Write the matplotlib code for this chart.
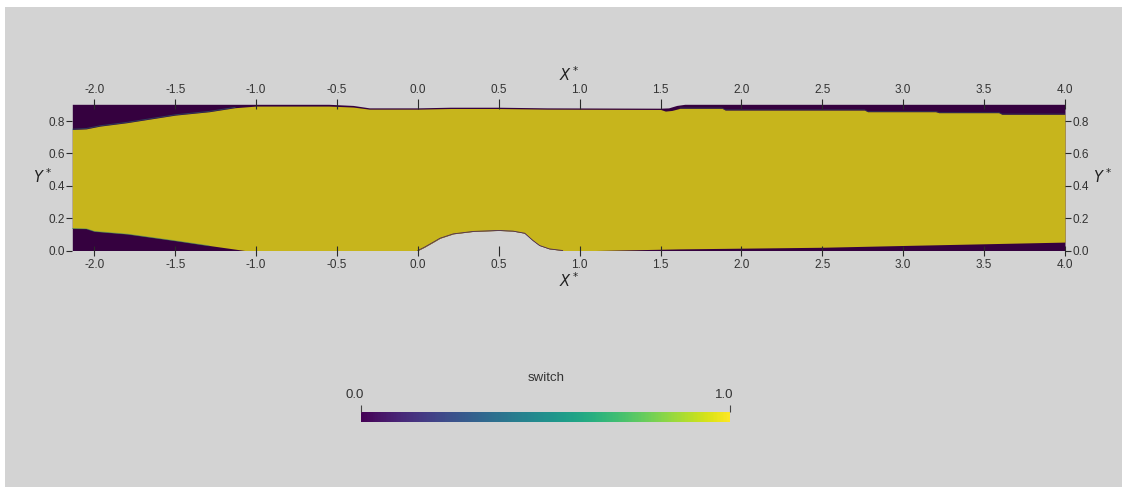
import numpy as np
import matplotlib
matplotlib.use("Agg")
import matplotlib.pyplot as plt
from matplotlib.patches import Rectangle
from matplotlib.cm import ScalarMappable
from matplotlib.colors import Normalize
from matplotlib.transforms import ScaledTranslation

plt.rcParams['font.family'] = ['Liberation Sans', 'DejaVu Sans']
plt.rcParams['mathtext.fontset'] = 'dejavusans'

# domain walls (x*, y*)
top_wall_x = [-2.136, -0.55, -0.40, -0.30, 0.0, 0.2, 0.5, 0.8, 1.5, 1.55, 1.6, 1.65, 4.0]
top_wall_y = [0.904, 0.904, 0.897, 0.882, 0.882, 0.886, 0.886, 0.882, 0.880, 0.882, 0.897, 0.904, 0.904]

bot_wall_x = [-2.136, 0.0, 0.04, 0.096, 0.137, 0.219, 0.342, 0.445, 0.5, 0.588, 0.66, 0.711, 0.752, 0.813, 0.895, 4.0]
bot_wall_y = [0.0, 0.0, 0.02, 0.052, 0.076, 0.103, 0.118, 0.122, 0.124, 0.120, 0.107, 0.062, 0.031, 0.010, 0.0, 0.0]

# switch = 1 region (yellow) limits
upper_x = [-2.136, -2.05, -1.965, -1.8, -1.5, -1.29, -1.13, -1.0, -0.55, -0.40, -0.30, 0.0, 0.2, 0.5, 0.8,
           1.5, 1.53, 1.57, 1.62, 1.88, 1.9, 2.76, 2.78, 3.2, 3.22, 3.59, 3.61, 4.0]
upper_y = [0.748, 0.752, 0.769, 0.79, 0.837, 0.858, 0.883, 0.893, 0.893, 0.887, 0.874, 0.874, 0.878, 0.878, 0.874,
           0.872, 0.862, 0.866, 0.879, 0.879, 0.868, 0.868, 0.858, 0.858, 0.852, 0.852, 0.842, 0.842]

lower_x = [-2.136, -2.05, -2.0, -1.795, -1.5, -1.29, -1.07, 1.1, 1.618, 2.5, 3.0, 4.0]
lower_y = [0.138, 0.136, 0.12, 0.103, 0.062, 0.031, 0.0, 0.0, 0.01, 0.02, 0.031, 0.052]

x_ticks = [-2.0, -1.5, -1.0, -0.5, 0.0, 0.5, 1.0, 1.5, 2.0, 2.5, 3.0, 3.5, 4.0]
y_ticks = [0.0, 0.2, 0.4, 0.6, 0.8]

purple = '#35013f'
yellow = '#c7b51c'
fringe = '#2a8a7a'
tick_col = '#2a2a2a'

W, H = 1122, 487
fig = plt.figure(figsize=(W / 100, H / 100), dpi=100, facecolor='white')
fig.patches.append(Rectangle((5 / W, 0), 1 - 5 / W, 1 - 7 / H, transform=fig.transFigure,
                             facecolor='#d3d3d3', edgecolor='none', zorder=-10))

# main axes, placed in pixels
x0, x1 = 72.3, 1065.0
y0, y1 = 250.5, 104.3
ax = fig.add_axes([x0 / W, 1 - y0 / H, (x1 - x0) / W, (y0 - y1) / H])
ax.patch.set_visible(False)
for s in ax.spines.values():
    s.set_visible(False)

xs = np.unique(np.concatenate([top_wall_x, bot_wall_x, upper_x, lower_x, np.linspace(-2.136, 4.0, 800)]))
tw = np.interp(xs, top_wall_x, top_wall_y)
bw = np.interp(xs, bot_wall_x, bot_wall_y)
up = np.interp(xs, upper_x, upper_y)
lo = np.maximum(np.interp(xs, lower_x, lower_y), bw)

ax.fill_between(xs, bw, tw, color=purple, lw=0, zorder=0.5)
ax.fill_between(xs, lo, up, color=yellow, lw=0, zorder=0.6)

# thin blended edges between the regions
ux = np.array(upper_x); uy = np.array(upper_y)
m = ux <= -1.13
ax.plot(ux[m], uy[m] + 0.002, color=fringe, lw=0.7, alpha=0.45, zorder=0.7)
m = ux >= 1.62
ax.plot(ux[m], uy[m] + 0.002, color=fringe, lw=0.6, alpha=0.35, zorder=0.7)
lx = np.array(lower_x); ly = np.array(lower_y)
m = lx <= -1.29
ax.plot(lx[m], ly[m] - 0.002, color=fringe, lw=0.7, alpha=0.45, zorder=0.7)
bx = np.array(bot_wall_x); by = np.array(bot_wall_y)
m = (bx >= 0.0) & (bx <= 0.9)
ax.plot(bx[m], by[m], color='#4a2a55', lw=0.6, zorder=0.8)

ax.set_xlim(-2.136, 4.0)
ax.set_ylim(0.0, 0.904)

ax.set_xticks(x_ticks)
ax.set_xticklabels([f'{v:.1f}' for v in x_ticks])
ax.set_yticks(y_ticks)
ax.set_yticklabels([f'{v:.1f}' for v in y_ticks])
ax.tick_params(axis='x', which='both', top=True, bottom=True, labeltop=True, labelbottom=True,
               direction='inout', length=7.5, width=0.8, color=tick_col, labelsize=8.5,
               labelcolor='#333333', pad=2.5)
ax.tick_params(axis='y', which='both', left=True, right=True, labelleft=True, labelright=True,
               direction='out', length=4.5, width=0.8, color=tick_col, labelsize=8.5,
               labelcolor='#333333', pad=1)

fig.text(569 / W, 1 - 75 / H, r'$X^*$', ha='center', va='center', fontsize=10.5, color='#222222')
fig.text(569 / W, 1 - 281 / H, r'$X^*$', ha='center', va='center', fontsize=10.5, color='#222222')
fig.text(42 / W, 1 - 177 / H, r'$Y^*$', ha='center', va='center', fontsize=10.5, color='#222222')
fig.text(1102 / W, 1 - 177 / H, r'$Y^*$', ha='center', va='center', fontsize=10.5, color='#222222')

# colour bar
cax = fig.add_axes([361 / W, 1 - 422.3 / H, (730 - 361) / W, 10.6 / H])
cb = fig.colorbar(ScalarMappable(norm=Normalize(0, 1), cmap='viridis'), cax=cax, orientation='horizontal')
cb.outline.set_visible(False)
cb.set_ticks([0.0, 1.0])
cb.set_ticklabels(['0.0', '1.0'])
cax.xaxis.set_ticks_position('top')
cax.tick_params(axis='x', direction='out', length=5, width=0.8, color='#444444',
                labelsize=9.5, labelcolor='#333333', pad=3)
shift = ScaledTranslation(-6 / 100, 0, fig.dpi_scale_trans)
for lab in cax.get_xticklabels():
    lab.set_transform(lab.get_transform() + shift)
fig.text(546 / W, 1 - 378 / H, 'switch', ha='center', va='center', fontsize=9.5, color='#333333')

fig.savefig('out.png', dpi=100, facecolor=fig.get_facecolor())
